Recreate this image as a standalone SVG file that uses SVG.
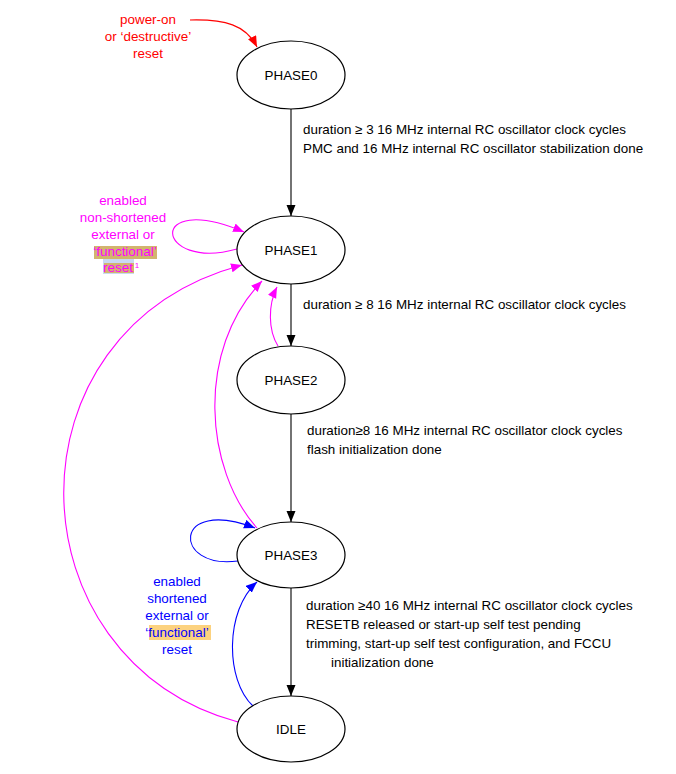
<svg xmlns="http://www.w3.org/2000/svg" width="676" height="774" viewBox="0 0 676 774">
<style>
text{font-family:"Liberation Sans",Arial,sans-serif;font-size:13.4px}
.node ellipse{fill:#fff;stroke:#000;stroke-width:1.2}
.node text{text-anchor:middle;fill:#000}
.lbl{fill:#000}
.c{fill:none;stroke-width:1.1}
.k{stroke:#000}.r{stroke:#f00}.m{stroke:#f0f}.b{stroke:#00f}
.red{fill:#f00;text-anchor:middle}.mag{fill:#f0f;text-anchor:middle}.blu{fill:#00f;text-anchor:middle}
</style>
<defs>
<marker id="ak" markerUnits="userSpaceOnUse" markerWidth="12" markerHeight="10" refX="11" refY="4.5" orient="auto"><path d="M0,0 L11,4.5 L0,9 Z" fill="#000"/></marker>
<marker id="ar" markerUnits="userSpaceOnUse" markerWidth="12" markerHeight="10" refX="11" refY="4.5" orient="auto"><path d="M0,0 L11,4.5 L0,9 Z" fill="#f00"/></marker>
<marker id="am" markerUnits="userSpaceOnUse" markerWidth="12" markerHeight="10" refX="11" refY="4.5" orient="auto"><path d="M0,0 L11,4.5 L0,9 Z" fill="#f0f"/></marker>
<marker id="ab" markerUnits="userSpaceOnUse" markerWidth="12" markerHeight="10" refX="11" refY="4.5" orient="auto"><path d="M0,0 L11,4.5 L0,9 Z" fill="#00f"/></marker>
</defs>
<g id="connectors">
<path class="c r" d="M190,20 C225,19 246,25 257,47" marker-end="url(#ar)"/>
<path class="c k" d="M291,109 L291,216" marker-end="url(#ak)"/>
<path class="c k" d="M291,284 L291,346" marker-end="url(#ak)"/>
<path class="c k" d="M291,414 L291,522" marker-end="url(#ak)"/>
<path class="c k" d="M291,588 L291,696" marker-end="url(#ak)"/>
<path class="c m" d="M237,249 C155,272 145,190 244,232" marker-end="url(#am)"/>
<path class="c m" d="M278,346 C268,330 268,305 277,287" marker-end="url(#am)"/>
<path class="c m" d="M257,528 C205,470 195,350 262,281" marker-end="url(#am)"/>
<path class="c m" d="M238,722 C10,660 0,330 242,265" marker-end="url(#am)"/>
<path class="c b" d="M238,561 C172,570 172,496 255,528" marker-end="url(#ab)"/>
<path class="c b" d="M253,706 C225,680 225,610 257,582" marker-end="url(#ab)"/>
</g>
<g id="PHASE0" class="node"><ellipse cx="291" cy="75" rx="54" ry="34"/><text x="291" y="80">PHASE0</text></g>
<g id="PHASE1" class="node"><ellipse cx="291" cy="250" rx="54" ry="34"/><text x="291" y="255">PHASE1</text></g>
<g id="PHASE2" class="node"><ellipse cx="291" cy="380" rx="54" ry="34"/><text x="291" y="385">PHASE2</text></g>
<g id="PHASE3" class="node"><ellipse cx="291" cy="555" rx="54" ry="33"/><text x="291" y="560">PHASE3</text></g>
<g id="IDLE" class="node"><ellipse cx="291" cy="729" rx="54" ry="33"/><text x="291" y="734">IDLE</text></g>
<g id="labels">
<text class="lbl" x="303" y="134">duration ≥ 3 16 MHz internal RC oscillator clock cycles</text>
<text class="lbl" x="303" y="153">PMC and 16 MHz internal RC oscillator stabilization done</text>
<text class="lbl" x="303" y="309">duration ≥ 8 16 MHz internal RC oscillator clock cycles</text>
<text class="lbl" x="307" y="435">duration≥8 16 MHz internal RC oscillator clock cycles</text>
<text class="lbl" x="307" y="454">flash initialization done</text>
<text class="lbl" x="306" y="610">duration ≥40 16 MHz internal RC oscillator clock cycles</text>
<text class="lbl" x="306" y="629">RESETB released or start-up self test pending</text>
<text class="lbl" x="306" y="648">trimming, start-up self test configuration, and FCCU</text>
<text class="lbl" x="331" y="667">initialization done</text>
<text class="red" x="148" y="24">power-on</text>
<text class="red" x="148" y="41">or ‘destructive’</text>
<text class="red" x="148" y="58">reset</text>
<rect x="103" y="259" width="31" height="15" fill="#c9d9f2"/>
<rect x="94" y="246" width="63" height="13" fill="#d2b46e"/>
<rect x="104" y="263" width="30" height="10" fill="#d2b46e"/>
<text class="mag" x="123" y="205">enabled</text>
<text class="mag" x="123" y="222">non-shortened</text>
<text class="mag" x="123" y="239">external or</text>
<text class="mag" x="125" y="256">‘functional’</text>
<text class="mag" x="118" y="272">reset</text>
<text class="mag" x="137" y="268" style="font-size:8px">1</text>
<rect x="149" y="625" width="62" height="15" fill="#fcd27f"/>
<text class="blu" x="177" y="586">enabled</text>
<text class="blu" x="177" y="603">shortened</text>
<text class="blu" x="177" y="620">external or</text>
<text class="blu" x="177" y="637">‘functional’</text>
<text class="blu" x="177" y="654">reset</text>
</g>
</svg>
